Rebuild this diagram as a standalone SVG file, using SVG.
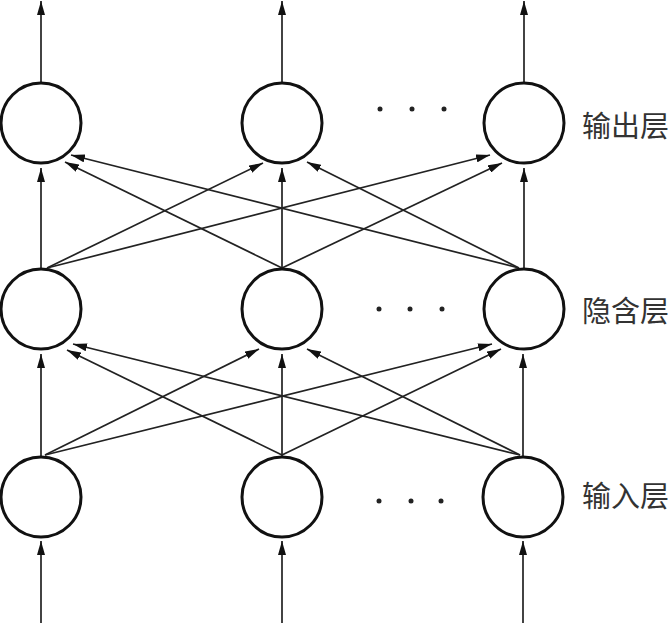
<svg xmlns="http://www.w3.org/2000/svg" width="672" height="623" viewBox="0 0 672 623">
<style>
.node{fill:#fff;stroke:#111;stroke-width:3}
.edge{stroke:#222;stroke-width:1.7;fill:none}
.lbl{font-family:"Noto Sans CJK SC","Noto Sans",sans-serif;font-size:29px;fill:#333}
.dot{fill:#222}
</style>
<defs>
<marker id="arr" markerUnits="userSpaceOnUse" markerWidth="15" markerHeight="8" refX="14" refY="4" orient="auto">
<path d="M0,0 L14,4 L0,8 z" fill="#111"/>
</marker>
</defs>
<rect width="672" height="623" fill="#fff"/>
<g id="connectors">
<line class="edge" x1="41" y1="83" x2="41" y2="1" marker-end="url(#arr)"/>
<line class="edge" x1="282" y1="83" x2="282" y2="1" marker-end="url(#arr)"/>
<line class="edge" x1="524" y1="83" x2="524" y2="1" marker-end="url(#arr)"/>
<line class="edge" x1="41" y1="269" x2="41" y2="168" marker-end="url(#arr)"/>
<line class="edge" x1="282" y1="269" x2="282" y2="168" marker-end="url(#arr)"/>
<line class="edge" x1="524" y1="269" x2="524" y2="168" marker-end="url(#arr)"/>
<line class="edge" x1="41" y1="456" x2="41" y2="354" marker-end="url(#arr)"/>
<line class="edge" x1="282" y1="456" x2="282" y2="354" marker-end="url(#arr)"/>
<line class="edge" x1="523" y1="456" x2="523" y2="354" marker-end="url(#arr)"/>
<line class="edge" x1="41" y1="623" x2="41" y2="541" marker-end="url(#arr)"/>
<line class="edge" x1="282" y1="623" x2="282" y2="541" marker-end="url(#arr)"/>
<line class="edge" x1="523" y1="623" x2="523" y2="541" marker-end="url(#arr)"/>
<line class="edge" x1="47" y1="268" x2="263" y2="163" marker-end="url(#arr)"/>
<line class="edge" x1="47" y1="268" x2="490" y2="155" marker-end="url(#arr)"/>
<line class="edge" x1="282" y1="268" x2="65" y2="162" marker-end="url(#arr)"/>
<line class="edge" x1="282" y1="268" x2="502" y2="163" marker-end="url(#arr)"/>
<line class="edge" x1="519" y1="268" x2="71" y2="155" marker-end="url(#arr)"/>
<line class="edge" x1="519" y1="268" x2="307" y2="162" marker-end="url(#arr)"/>
<line class="edge" x1="45" y1="455" x2="259" y2="349" marker-end="url(#arr)"/>
<line class="edge" x1="45" y1="455" x2="492" y2="344" marker-end="url(#arr)"/>
<line class="edge" x1="282" y1="455" x2="67" y2="350" marker-end="url(#arr)"/>
<line class="edge" x1="282" y1="455" x2="501" y2="349" marker-end="url(#arr)"/>
<line class="edge" x1="520" y1="455" x2="73" y2="344" marker-end="url(#arr)"/>
<line class="edge" x1="520" y1="455" x2="307" y2="349" marker-end="url(#arr)"/>
</g>
<g id="out1"><circle class="node" cx="41" cy="123" r="40"/></g>
<g id="out2"><circle class="node" cx="282" cy="123" r="40"/></g>
<g id="out3"><circle class="node" cx="524" cy="123" r="40"/></g>
<g id="hid1"><circle class="node" cx="41" cy="309" r="40"/></g>
<g id="hid2"><circle class="node" cx="282" cy="309" r="40"/></g>
<g id="hid3"><circle class="node" cx="524" cy="309" r="40"/></g>
<g id="in1"><circle class="node" cx="41" cy="497" r="40"/></g>
<g id="in2"><circle class="node" cx="282" cy="497" r="40"/></g>
<g id="in3"><circle class="node" cx="523" cy="497" r="40"/></g>
<g id="dots">
<circle class="dot" cx="380" cy="109" r="2.5"/><circle class="dot" cx="412" cy="109" r="2.5"/><circle class="dot" cx="444" cy="109" r="2.5"/>
<circle class="dot" cx="379" cy="309" r="2.5"/><circle class="dot" cx="410" cy="309" r="2.5"/><circle class="dot" cx="442" cy="309" r="2.5"/>
<circle class="dot" cx="379" cy="501" r="2.5"/><circle class="dot" cx="411" cy="501" r="2.5"/><circle class="dot" cx="441" cy="501" r="2.5"/>
</g>
<g id="labels">
<text class="lbl" x="582" y="137">输出层</text>
<text class="lbl" x="582" y="322">隐含层</text>
<text class="lbl" x="582" y="507">输入层</text>
</g>
</svg>
